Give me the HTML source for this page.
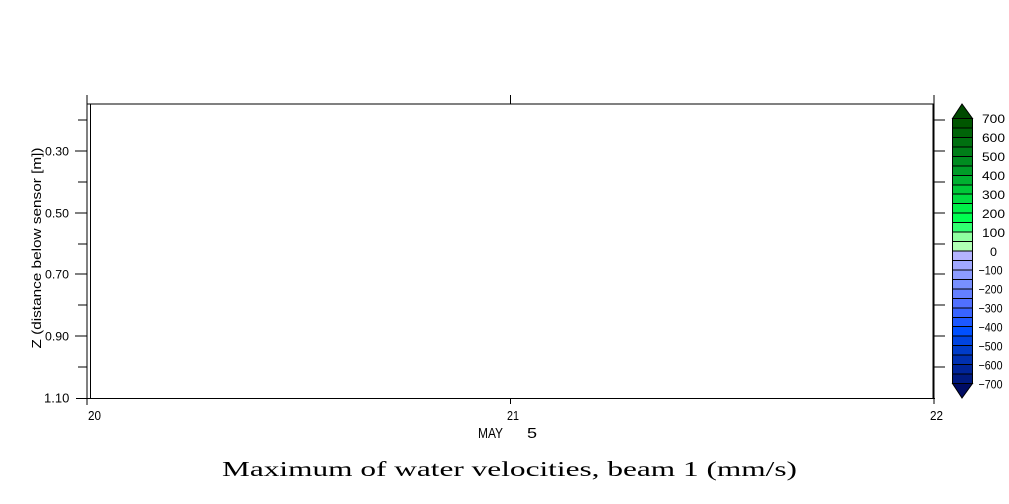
<!DOCTYPE html>
<html><head><meta charset="utf-8"><style>
html,body{margin:0;padding:0;background:#fff;}
svg{display:block;}
text{font-family:"Liberation Sans",sans-serif;fill:#000;}
</style></head><body>
<svg width="1009" height="504" viewBox="0 0 1009 504" xmlns="http://www.w3.org/2000/svg">
<rect width="1009" height="504" fill="#fff"/>
<g stroke="#000" stroke-width="1" fill="none" shape-rendering="crispEdges">
  <line x1="87" y1="95" x2="87" y2="405"/>
  <line x1="90.5" y1="104" x2="90.5" y2="398"/>
  <line x1="933" y1="104" x2="933" y2="398"/>
  <line x1="934" y1="95" x2="934" y2="404"/>
  <line x1="87" y1="104" x2="934" y2="104"/>
  <line x1="76" y1="398.5" x2="935" y2="398.5"/>
  <line x1="510.5" y1="95" x2="510.5" y2="104"/>
  <line x1="510.5" y1="398" x2="510.5" y2="404"/>
  <line x1="75" y1="151" x2="87" y2="151"/>
  <line x1="75" y1="213" x2="87" y2="213"/>
  <line x1="75" y1="274" x2="87" y2="274"/>
  <line x1="75" y1="336" x2="87" y2="336"/>
  <line x1="78" y1="120" x2="87" y2="120"/>
  <line x1="78" y1="182" x2="87" y2="182"/>
  <line x1="78" y1="244" x2="87" y2="244"/>
  <line x1="78" y1="305" x2="87" y2="305"/>
  <line x1="78" y1="367" x2="87" y2="367"/>
  <line x1="934" y1="120" x2="945" y2="120"/>
  <line x1="934" y1="151" x2="945" y2="151"/>
  <line x1="934" y1="182" x2="945" y2="182"/>
  <line x1="934" y1="213" x2="945" y2="213"/>
  <line x1="934" y1="244" x2="945" y2="244"/>
  <line x1="934" y1="274" x2="945" y2="274"/>
  <line x1="934" y1="305" x2="945" y2="305"/>
  <line x1="934" y1="336" x2="945" y2="336"/>
  <line x1="934" y1="367" x2="945" y2="367"/>
</g>

<g font-size="12">
  <text x="45" y="155.5" textLength="24" lengthAdjust="spacingAndGlyphs">0.30</text>
  <text x="45" y="217.5" textLength="24" lengthAdjust="spacingAndGlyphs">0.50</text>
  <text x="45" y="278.5" textLength="24" lengthAdjust="spacingAndGlyphs">0.70</text>
  <text x="45" y="340.5" textLength="24" lengthAdjust="spacingAndGlyphs">0.90</text>
  <text x="44" y="402.5" font-size="13">1.10</text>
</g>
<text transform="translate(41,248) rotate(-90)" text-anchor="middle" font-size="13" textLength="201" lengthAdjust="spacingAndGlyphs">Z (distance below sensor [m])</text>

<g font-size="13">
  <text x="88" y="420" textLength="13" lengthAdjust="spacingAndGlyphs">20</text>
  <text x="507" y="420" textLength="12" lengthAdjust="spacingAndGlyphs">21</text>
  <text x="930" y="420" textLength="13" lengthAdjust="spacingAndGlyphs">22</text>
</g>
<text x="478" y="438" font-size="15" textLength="25" lengthAdjust="spacingAndGlyphs">MAY</text>
<text x="527" y="438" font-size="15" textLength="10" lengthAdjust="spacingAndGlyphs">5</text>

<text x="222" y="476" font-size="21" textLength="575" lengthAdjust="spacingAndGlyphs" style="font-family:'Liberation Serif',serif">Maximum of water velocities, beam 1 (mm/s)</text>

<g stroke="#000" stroke-width="1" shape-rendering="crispEdges">
  <polygon points="962,104 952.5,118.5 972.5,118.5" fill="#004a00" shape-rendering="auto"/>
  <rect x="952.5" y="118.5" width="20" height="9.46" fill="#005600"/>
  <rect x="952.5" y="127.96" width="20" height="9.46" fill="#006408"/>
  <rect x="952.5" y="137.43" width="20" height="9.46" fill="#007010"/>
  <rect x="952.5" y="146.89" width="20" height="9.46" fill="#007e18"/>
  <rect x="952.5" y="156.36" width="20" height="9.46" fill="#008c20"/>
  <rect x="952.5" y="165.82" width="20" height="9.46" fill="#009c28"/>
  <rect x="952.5" y="175.29" width="20" height="9.46" fill="#00b030"/>
  <rect x="952.5" y="184.75" width="20" height="9.46" fill="#00c838"/>
  <rect x="952.5" y="194.21" width="20" height="9.46" fill="#00dc40"/>
  <rect x="952.5" y="203.68" width="20" height="9.46" fill="#00f048"/>
  <rect x="952.5" y="213.14" width="20" height="9.46" fill="#00ff50"/>
  <rect x="952.5" y="222.61" width="20" height="9.46" fill="#30ff70"/>
  <rect x="952.5" y="232.07" width="20" height="9.46" fill="#90ffa0"/>
  <rect x="952.5" y="241.54" width="20" height="9.46" fill="#b0ffb4"/>
  <rect x="952.5" y="251" width="20" height="9.46" fill="#b4b4ff"/>
  <rect x="952.5" y="260.46" width="20" height="9.46" fill="#a0a8ff"/>
  <rect x="952.5" y="269.93" width="20" height="9.46" fill="#8c9cff"/>
  <rect x="952.5" y="279.39" width="20" height="9.46" fill="#7890ff"/>
  <rect x="952.5" y="288.86" width="20" height="9.46" fill="#6480ff"/>
  <rect x="952.5" y="298.32" width="20" height="9.46" fill="#5070ff"/>
  <rect x="952.5" y="307.79" width="20" height="9.46" fill="#3864ff"/>
  <rect x="952.5" y="317.25" width="20" height="9.46" fill="#1c58ff"/>
  <rect x="952.5" y="326.71" width="20" height="9.46" fill="#0050ff"/>
  <rect x="952.5" y="336.18" width="20" height="9.46" fill="#0044e0"/>
  <rect x="952.5" y="345.64" width="20" height="9.46" fill="#003cc8"/>
  <rect x="952.5" y="355.11" width="20" height="9.46" fill="#0030b0"/>
  <rect x="952.5" y="364.57" width="20" height="9.46" fill="#002498"/>
  <rect x="952.5" y="374.04" width="20" height="9.46" fill="#001a80"/>
  <polygon points="952.5,383.5 972.5,383.5 962,398" fill="#000c64" shape-rendering="auto"/>
</g>

<g font-size="12" text-anchor="middle">
  <text x="993.5" y="123" textLength="23" lengthAdjust="spacingAndGlyphs">700</text>
  <text x="993.5" y="142" textLength="23" lengthAdjust="spacingAndGlyphs">600</text>
  <text x="993.5" y="161" textLength="23" lengthAdjust="spacingAndGlyphs">500</text>
  <text x="993.5" y="180" textLength="23" lengthAdjust="spacingAndGlyphs">400</text>
  <text x="993.5" y="199" textLength="23" lengthAdjust="spacingAndGlyphs">300</text>
  <text x="993.5" y="218" textLength="23" lengthAdjust="spacingAndGlyphs">200</text>
  <text x="993.5" y="237" textLength="23" lengthAdjust="spacingAndGlyphs">100</text>
  <text x="993.5" y="256" textLength="7" lengthAdjust="spacingAndGlyphs">0</text>
  <text x="990.5" y="274.5" textLength="24" lengthAdjust="spacingAndGlyphs">−100</text>
  <text x="990.5" y="293.5" textLength="24" lengthAdjust="spacingAndGlyphs">−200</text>
  <text x="990.5" y="312.5" textLength="24" lengthAdjust="spacingAndGlyphs">−300</text>
  <text x="990.5" y="331.5" textLength="24" lengthAdjust="spacingAndGlyphs">−400</text>
  <text x="990.5" y="350.5" textLength="24" lengthAdjust="spacingAndGlyphs">−500</text>
  <text x="990.5" y="369.5" textLength="24" lengthAdjust="spacingAndGlyphs">−600</text>
  <text x="990.5" y="388.5" textLength="24" lengthAdjust="spacingAndGlyphs">−700</text>
</g>
</svg>
</body></html>
